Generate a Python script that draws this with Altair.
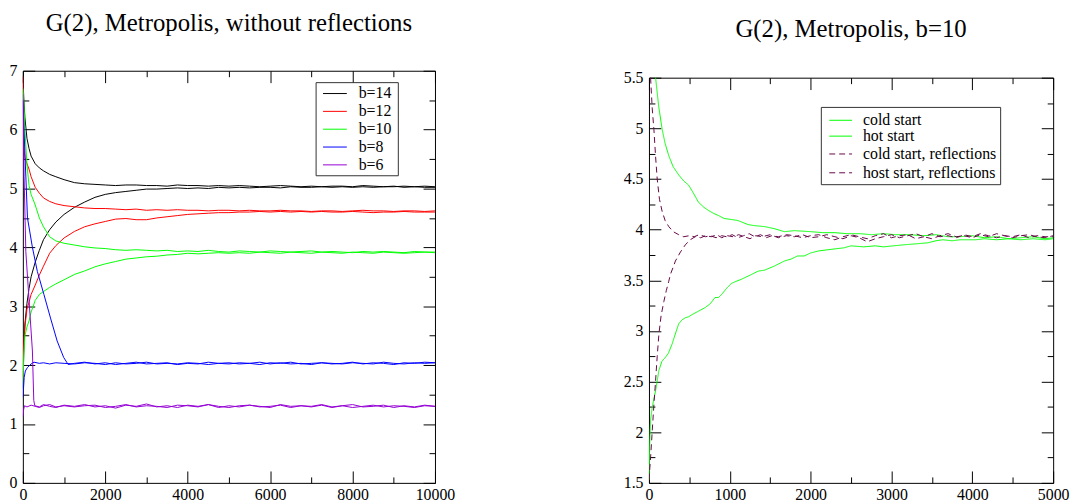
import altair as alt
import pandas as pd

FONT = "Liberation Serif"

# ---------------- left panel data ----------------
B_LABELS = ["b=14", "b=12", "b=10", "b=8", "b=6"]
B_COLORS = ["#000000", "#ff0000", "#00ff00", "#0000ff", "#9400d3"]

GRID_X = [0, 25, 50, 100, 150, 200, 300, 400, 500, 650, 800, 1000, 1250, 1500, 1750, 2000] + list(range(2250, 10001, 250))

b14_hot = [6.9, 6.5, 6.2, 5.85, 5.68, 5.55, 5.42, 5.35, 5.3, 5.24, 5.2, 5.15, 5.1, 5.08, 5.07, 5.06,
           5.05, 5.06, 5.06, 5.05, 5.05, 5.04, 5.06, 5.05, 5.05, 5.04, 5.05, 5.04, 5.05, 5.04, 5.03, 5.04,
           5.05, 5.04, 5.03, 5.04, 5.03, 5.04, 5.04, 5.03, 5.05, 5.04, 5.03, 5.03, 5.04, 5.03, 5.04, 5.03]
b12_hot = [6.9, 5.7, 5.52, 5.42, 5.33, 5.2, 5.02, 4.92, 4.84, 4.78, 4.74, 4.71, 4.69, 4.67, 4.66, 4.66,
           4.65, 4.64, 4.65, 4.63, 4.64, 4.63, 4.64, 4.63, 4.63, 4.62, 4.63, 4.63, 4.62, 4.63, 4.62, 4.62,
           4.63, 4.62, 4.62, 4.61, 4.62, 4.62, 4.61, 4.62, 4.63, 4.62, 4.62, 4.61, 4.62, 4.62, 4.61, 4.62]
b10_hot = [6.7, 6.45, 6.0, 5.4, 5.05, 4.9, 4.72, 4.5, 4.35, 4.18, 4.11, 4.07, 4.04, 4.01, 3.99, 3.98,
           3.96, 3.95, 3.96, 3.95, 3.94, 3.95, 3.93, 3.94, 3.93, 3.95, 3.93, 3.92, 3.94, 3.93, 3.92, 3.94,
           3.93, 3.92, 3.93, 3.94, 3.92, 3.93, 3.92, 3.91, 3.93, 3.92, 3.93, 3.92, 3.91, 3.93, 3.92, 3.92]
b14_cold = [1.6, 2.3, 2.7, 3.05, 3.3, 3.5, 3.75, 3.95, 4.13, 4.3, 4.43, 4.56, 4.68, 4.77, 4.85, 4.9,
            4.93, 4.95, 4.97, 4.99, 4.99, 5.0, 5.01, 5.0, 5.01, 5.0, 5.02, 5.01, 5.02, 5.01, 5.02, 5.02,
            5.01, 5.03, 5.02, 5.02, 5.03, 5.02, 5.03, 5.02, 5.03, 5.02, 5.03, 5.04, 5.02, 5.03, 5.02, 5.02]
b12_cold = [1.8, 2.4, 2.65, 2.95, 3.07, 3.2, 3.36, 3.53, 3.68, 3.9, 4.03, 4.16, 4.27, 4.35, 4.4, 4.44,
            4.48, 4.49, 4.47, 4.47, 4.5, 4.52, 4.54, 4.56, 4.57, 4.58, 4.59, 4.59, 4.6, 4.6, 4.61, 4.6,
            4.61, 4.6, 4.61, 4.6, 4.61, 4.6, 4.6, 4.61, 4.6, 4.59, 4.6, 4.6, 4.61, 4.6, 4.6, 4.6]
b10_cold = [1.6, 2.2, 2.5, 2.65, 2.75, 2.9, 3.1, 3.2, 3.25, 3.32, 3.38, 3.45, 3.54, 3.6, 3.67, 3.72,
            3.76, 3.8, 3.82, 3.84, 3.85, 3.87, 3.88, 3.9, 3.89, 3.9, 3.91, 3.9, 3.91, 3.9, 3.92, 3.91,
            3.9, 3.92, 3.91, 3.9, 3.92, 3.91, 3.9, 3.92, 3.91, 3.9, 3.92, 3.91, 3.9, 3.91, 3.92, 3.91]

B8_HOT_X = [0, 50, 112, 232, 352, 511, 671, 832, 991, 1100] + list(range(1250, 10001, 250))
b8_hot = [6.5, 5.6, 4.5, 4.0, 3.59, 3.2, 2.8, 2.41, 2.13, 2.01,
          2.03, 2.05, 2.02, 2.04, 2.01, 2.03, 2.05, 2.02, 2.03, 2.04, 2.01, 2.03, 2.02, 2.05, 2.03, 2.02,
          2.04, 2.03, 2.01, 2.04, 2.03, 2.05, 2.02, 2.03, 2.04, 2.02, 2.03, 2.05, 2.02, 2.04, 2.03, 2.01,
          2.04, 2.03, 2.05, 2.04]
B8_COLD_X = [0, 15, 32, 60, 112, 200, 271, 400, 500, 650, 800, 1000] + list(range(1250, 10001, 250))
b8_cold = [1.45, 1.6, 1.79, 1.9, 1.96, 2.02, 2.05, 2.03, 2.04, 2.02, 2.04, 2.03,
           2.02, 2.04, 2.03, 2.01, 2.04, 2.02, 2.03, 2.05, 2.02, 2.03, 2.02, 2.04, 2.03, 2.01, 2.03, 2.04,
           2.02, 2.03, 2.05, 2.02, 2.04, 2.02, 2.03, 2.01, 2.04, 2.03, 2.02, 2.04, 2.03, 2.02, 2.05, 2.03,
           2.02, 2.04, 2.03, 2.04]
B6_HOT_X = [0, 30, 72, 151, 232, 265, 290, 400, 500, 650, 800, 1000] + list(range(1250, 10001, 250))
b6_hot = [6.6, 5.2, 3.93, 3.09, 2.24, 1.4, 1.31, 1.29, 1.33, 1.3, 1.28, 1.32,
          1.30, 1.33, 1.29, 1.31, 1.27, 1.32, 1.30, 1.34, 1.29, 1.31, 1.28, 1.32, 1.30, 1.33, 1.28, 1.31,
          1.29, 1.32, 1.30, 1.28, 1.33, 1.30, 1.31, 1.29, 1.32, 1.28, 1.31, 1.33, 1.29, 1.30, 1.32, 1.28,
          1.31, 1.29, 1.32, 1.30]
B6_COLD_X = [0, 20, 40, 100, 200, 300, 400, 500, 650, 800, 1000] + list(range(1250, 10001, 250))
b6_cold = [1.12, 1.25, 1.31, 1.29, 1.32, 1.3, 1.28, 1.31, 1.33, 1.29, 1.31,
           1.29, 1.31, 1.32, 1.28, 1.30, 1.33, 1.29, 1.31, 1.30, 1.28, 1.32, 1.31, 1.29, 1.33, 1.30, 1.28,
           1.31, 1.32, 1.29, 1.30, 1.32, 1.28, 1.31, 1.30, 1.33, 1.29, 1.31, 1.28, 1.30, 1.32, 1.29, 1.31,
           1.30, 1.28, 1.31, 1.30]

LX_MAJOR = [0, 2000, 4000, 6000, 8000, 10000]
LX_MINOR = [1000, 3000, 5000, 7000, 9000]
LY_MAJOR = [0, 1, 2, 3, 4, 5, 6, 7]
LY_MINOR = [0.5, 1.5, 2.5, 3.5, 4.5, 5.5, 6.5]

# ---------------- right panel data (visible part; curves leave through the top edge) ----------------
R_LABELS = ["cold start", "hot start", "cold start, reflections", "host start, reflections"]
R_COLORS = ["#00ff00", "#00ff00", "#670748", "#670748"]
R_DASHES = [None, None, [6, 4], [6, 4]]

GD_X = [82, 120, 163, 200, 245, 300, 368, 430, 490, 550, 613, 680, 735, 800, 858, 930, 1021, 1100,
        1225, 1300, 1430, 1550, 1675, 1800, 2000, 2150, 2300, 2450, 2614, 2750, 2900, 3050, 3227, 3400,
        3550, 3700, 3840, 4000, 4150, 4300, 4452, 4600, 4750, 4900, 5000]
GD_Y = [5.5, 5.22, 4.99, 4.85, 4.73, 4.62, 4.54, 4.48, 4.44, 4.36, 4.27, 4.22, 4.19, 4.16, 4.14,
        4.11, 4.10, 4.09, 4.05, 4.04, 4.03, 4.01, 3.98, 3.99, 3.98, 3.97, 3.97, 3.96, 3.96, 3.95, 3.96,
        3.95, 3.95, 3.94, 3.95, 3.93, 3.93, 3.94, 3.92, 3.93, 3.91, 3.92, 3.93, 3.91, 3.92]
GU_X = [0, 10, 20, 41, 82, 123, 160, 204, 240, 286, 330, 368, 410, 450, 490, 531, 600, 695, 760, 817, 860,
        899, 960, 1021, 1080, 1144, 1250, 1350, 1430, 1550, 1675, 1760, 1838, 1920, 2001, 2100, 2200, 2300,
        2410, 2500, 2655, 2800, 2900, 3023, 3150, 3308, 3450, 3550, 3635, 3750, 3850, 4043, 4150, 4300,
        4450, 4600, 4750, 4900, 5000]
GU_Y = [1.53, 1.9, 2.12, 2.25, 2.41, 2.61, 2.70, 2.74, 2.78, 2.87, 2.98, 3.07, 3.11, 3.13, 3.14, 3.16, 3.19,
        3.23, 3.27, 3.33, 3.33, 3.36, 3.42, 3.47, 3.49, 3.51, 3.55, 3.59, 3.60, 3.64, 3.69, 3.71, 3.74, 3.74,
        3.77, 3.79, 3.80, 3.81, 3.82, 3.84, 3.83, 3.84, 3.83, 3.84, 3.85, 3.86, 3.87, 3.89, 3.90, 3.89, 3.90,
        3.90, 3.91, 3.90, 3.91, 3.90, 3.91, 3.90, 3.91]
MD_X = [20, 40, 61, 82, 102, 130, 163, 200, 245, 300, 368, 430, 500, 560, 620, 700, 760, 830, 900, 960,
        1030, 1100, 1170, 1240, 1310, 1380, 1450, 1520, 1600] + list(range(1700, 5001, 100))
MD_Y = [5.5, 5.2, 4.99, 4.72, 4.50, 4.3, 4.18, 4.09, 4.03, 3.98, 3.95, 3.93, 3.94, 3.93, 3.95, 3.93,
        3.94, 3.92, 3.94, 3.93, 3.95, 3.92, 3.94, 3.96, 3.93, 3.95, 3.92, 3.94, 3.93,
        3.95, 3.94, 3.92, 3.94, 3.95, 3.92, 3.90, 3.93, 3.95, 3.93, 3.91, 3.94, 3.96, 3.92, 3.94, 3.95, 3.91,
        3.93, 3.96, 3.93, 3.94, 3.92, 3.95, 3.93, 3.96, 3.94, 3.92, 3.94, 3.93, 3.95, 3.92, 3.94, 3.93, 3.93]
MU_X = [0, 20, 41, 61, 82, 102, 123, 150, 184, 215, 245, 266, 300, 327, 390, 450, 510, 572, 640, 700, 770,
        840, 900, 970, 1040, 1110, 1180, 1250, 1320, 1400, 1500, 1600] + list(range(1700, 5001, 100))
MU_Y = [1.53, 1.75, 2.02, 2.27, 2.51, 2.75, 2.97, 3.15, 3.29, 3.4, 3.49, 3.56, 3.63, 3.69, 3.78, 3.85, 3.90,
        3.93, 3.92, 3.94, 3.93, 3.95, 3.92, 3.94, 3.93, 3.95, 3.93, 3.91, 3.94, 3.93, 3.95, 3.92,
        3.94, 3.93, 3.95, 3.92, 3.93, 3.95, 3.93, 3.91, 3.94, 3.92, 3.88, 3.91, 3.93, 3.95, 3.92, 3.94, 3.96,
        3.93, 3.91, 3.94, 3.96, 3.93, 3.94, 3.92, 3.95, 3.93, 3.96, 3.94, 3.92, 3.94, 3.95, 3.93, 3.92, 3.94]

RX_MAJOR = [0, 1000, 2000, 3000, 4000, 5000]
RX_MINOR = [500, 1500, 2500, 3500, 4500]
RY_MAJOR = [1.5, 2, 2.5, 3, 3.5, 4, 4.5, 5, 5.5]
RY_MINOR = [1.75, 2.25, 2.75, 3.25, 3.75, 4.25, 4.75, 5.25]

# ---------------- build tables ----------------
left_series = [
    ("b=14", "hot", GRID_X, b14_hot), ("b=14", "cold", GRID_X, b14_cold),
    ("b=12", "hot", GRID_X, b12_hot), ("b=12", "cold", GRID_X, b12_cold),
    ("b=10", "hot", GRID_X, b10_hot), ("b=10", "cold", GRID_X, b10_cold),
    ("b=8", "hot", B8_HOT_X, b8_hot), ("b=8", "cold", B8_COLD_X, b8_cold),
    ("b=6", "hot", B6_HOT_X, b6_hot), ("b=6", "cold", B6_COLD_X, b6_cold),
]
rows = []
for b, run, xs, ys in left_series:
    assert len(xs) == len(ys), (b, run, len(xs), len(ys))
    for x, y in zip(xs, ys):
        rows.append({"b": b, "series": b + " " + run, "x": x, "y": y})
left_df = pd.DataFrame(rows)

right_series = [(R_LABELS[0], GD_X, GD_Y), (R_LABELS[1], GU_X, GU_Y),
                (R_LABELS[2], MU_X, MU_Y), (R_LABELS[3], MD_X, MD_Y)]
rows = []
for lab, xs, ys in right_series:
    assert len(xs) == len(ys), (lab, len(xs), len(ys))
    for x, y in zip(xs, ys):
        rows.append({"series": lab, "x": x, "y": y})
right_df = pd.DataFrame(rows)

AX = dict(grid=False, title=None, domainColor="black", domainWidth=1, tickColor="black", tickWidth=1)


def label_axes(xvals, yvals):
    ax = alt.Axis(orient="bottom", values=xvals, format="d", ticks=False, tickSize=0, domain=True,
                  labelFont=FONT, labelFontSize=16, labelColor="black",
                  labelPadding=4, labelFlush=False, labelOverlap=False, **AX)
    ay = alt.Axis(orient="left", values=yvals, format="~g", ticks=False, tickSize=0, domain=True,
                  labelFont=FONT, labelFontSize=16, labelColor="black",
                  labelPadding=6, labelFlush=False, labelOverlap=False, **AX)
    return ax, ay


def tick_layers(xscale, yscale, xdom, ydom, xmaj, xmin_, ymaj, ymin_, W, H, top):
    box = pd.DataFrame({"x": xdom, "y": ydom})
    out = []
    specs = [
        # (x orient, x offset, y orient, size, x values, y values, domain)
        ("top", -H, "right", 12, xmaj, ymaj, False),
        ("top", -H, "right", 6, xmin_, ymin_, False),
        ("bottom", -(H - top), "left", 12, xmaj, ymaj, True),
        ("bottom", -(H - top), "left", 6, xmin_, ymin_, False),
    ]
    for xo, xoff, yo, size, xv, yv, dom in specs:
        common = dict(ticks=True, labels=False, domain=dom, tickSize=size, **AX)
        out.append(alt.Chart(box).mark_point(opacity=0).encode(
            x=alt.X("x:Q", scale=xscale, axis=alt.Axis(orient=xo, offset=xoff, values=xv, **common)),
            y=alt.Y("y:Q", scale=yscale, axis=alt.Axis(orient=yo, offset=-W, values=yv, **common)),
        ))
    return out


def legend_layers(labels, colors, dashes, box, rows_y, sx1, sx2, tx):
    one = pd.DataFrame({"k": [0]})
    out = [alt.Chart(one).mark_rect(fill="white", stroke="#333333", strokeWidth=1).encode(
        x=alt.value(box[0]), x2=alt.value(box[1]), y=alt.value(box[2]), y2=alt.value(box[3]))]
    for lab, col, dash, ry in zip(labels, colors, dashes, rows_y):
        kw = dict(color=col, strokeWidth=1)
        if dash:
            kw["strokeDash"] = dash
        out.append(alt.Chart(one).mark_rule(**kw).encode(
            x=alt.value(sx1), x2=alt.value(sx2), y=alt.value(ry)))
        out.append(alt.Chart(one).mark_text(text=lab, align="left", baseline="middle", font=FONT,
                                            fontSize=16, color="black").encode(
            x=alt.value(tx), y=alt.value(ry)))
    return out


# ---------------- left panel ----------------
LW, LH = 416, 416
LXD, LYD = [0, 10000], [0, 7]
lxs = alt.Scale(domain=LXD, nice=False, zero=False)
lys = alt.Scale(domain=LYD, nice=False, zero=False)
ax, ay = label_axes(LX_MAJOR, LY_MAJOR)
left_lines = alt.Chart(left_df).mark_line(strokeWidth=1, clip=True).encode(
    x=alt.X("x:Q", scale=lxs, axis=ax),
    y=alt.Y("y:Q", scale=lys, axis=ay),
    color=alt.Color("b:N", scale=alt.Scale(domain=B_LABELS, range=B_COLORS), legend=None),
    detail="series:N",
)
left = alt.layer(
    left_lines,
    *tick_layers(lxs, lys, LXD, LYD, LX_MAJOR, LX_MINOR, LY_MAJOR, LY_MINOR, LW, LH, 0),
    *legend_layers(B_LABELS, B_COLORS, [None] * 5, (296, 379, 12, 106), [23, 41, 59, 77, 95], 303, 327, 339),
).resolve_axis(x="independent", y="independent").properties(
    width=LW, height=LH,
    title=alt.TitleParams(text="G(2), Metropolis, without reflections", font=FONT, fontSize=25,
                          fontWeight="normal", color="black", anchor="middle", frame="group",
                          baseline="bottom", offset=2),
)

# ---------------- right panel ----------------
RW, RH, RTOP = 408, 416, 7
RXD, RYD = [0, 5000], [1.5, 5.5]
rxs = alt.Scale(domain=RXD, nice=False, zero=False)
rys = alt.Scale(domain=RYD, nice=False, zero=False, range=[RH, RTOP])
ax, ay = label_axes(RX_MAJOR, RY_MAJOR)
right_lines = alt.Chart(right_df).mark_line(strokeWidth=1, clip=True).encode(
    x=alt.X("x:Q", scale=rxs, axis=ax),
    y=alt.Y("y:Q", scale=rys, axis=ay),
    color=alt.Color("series:N", scale=alt.Scale(domain=R_LABELS, range=R_COLORS), legend=None),
    strokeDash=alt.StrokeDash("series:N", scale=alt.Scale(domain=R_LABELS, range=[[1, 0], [1, 0], [6, 4], [6, 4]]),
                              legend=None),
    detail="series:N",
)
right = alt.layer(
    right_lines,
    *tick_layers(rxs, rys, RXD, RYD, RX_MAJOR, RX_MINOR, RY_MAJOR, RY_MINOR, RW, RH, RTOP),
    *legend_layers(R_LABELS, R_COLORS, R_DASHES, (174, 355, 37, 115), [50, 66, 84, 103], 182, 205, 216),
).resolve_axis(x="independent", y="independent").properties(
    width=RW, height=RH,
    title=alt.TitleParams(text="G(2), Metropolis, b=10", font=FONT, fontSize=25,
                          fontWeight="normal", color="black", anchor="middle", frame="group",
                          baseline="bottom", offset=3),
)

chart = alt.hconcat(left, right, spacing=168).resolve_scale(
    color="independent", strokeDash="independent"
).properties(
    padding={"left": 0, "top": 0, "right": 0, "bottom": 0}
).configure_view(stroke="transparent")

chart.save("out.html", embed_options={"renderer": "svg", "actions": False})
